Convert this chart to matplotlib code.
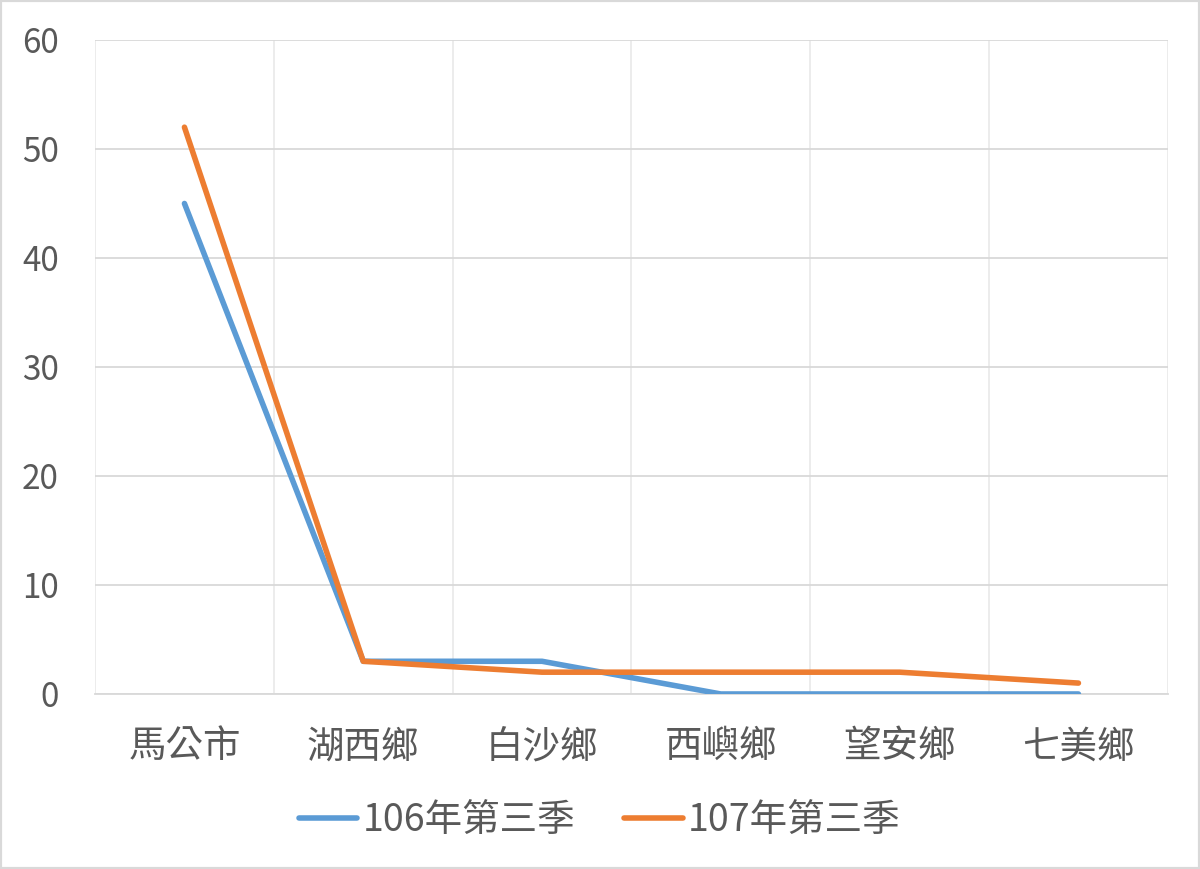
import matplotlib.pyplot as plt
from matplotlib.ticker import MultipleLocator

plt.rcParams['font.family'] = ['Noto Sans CJK TC', 'DejaVu Sans']

towns = ['馬公市', '湖西鄉', '白沙鄉', '西嶼鄉', '望安鄉', '七美鄉']
q3_106 = [45, 3, 3, 0, 0, 0]
q3_107 = [52, 3, 2, 2, 2, 1]
series_names = ['106年第三季', '107年第三季']

fig = plt.figure(figsize=(12, 8.69), dpi=100)
ax = fig.add_axes([0.0792, 0.2014, 0.894, 0.7526])

x = range(len(towns))
ax.plot(x, q3_106, color='#5B9BD5', lw=4, solid_capstyle='round', label=series_names[0], zorder=3)
ax.plot(x, q3_107, color='#ED7D31', lw=4, solid_capstyle='round', label=series_names[1], zorder=4)

ax.set_xlim(-0.5, len(towns) - 0.5)
ax.set_ylim(0, 60)
ax.yaxis.set_major_locator(MultipleLocator(10))
ax.set_xticks(list(x))
ax.set_xticklabels(towns)
ax.set_xticks([i - 0.5 for i in range(len(towns) + 1)] + list(x), minor=True)

ax.grid(axis='y', which='major', color='#D9D9D9', lw=1.3)
ax.grid(axis='x', which='minor', color='#EBEBEB', lw=1.3)
ax.set_axisbelow(True)

for side in ['top', 'right', 'left']:
    ax.spines[side].set_visible(False)
ax.spines['bottom'].set_color('#D9D9D9')
ax.spines['bottom'].set_linewidth(1.3)

ax.tick_params(axis='both', which='both', length=0)
ax.tick_params(axis='y', labelsize=24, labelcolor='#595959', pad=26)
ax.tick_params(axis='x', labelsize=27, labelcolor='#595959', pad=24)

fig.legend(loc='center', bbox_to_anchor=(0.5, 0.056), ncol=2, frameon=False,
           fontsize=27, labelcolor='#595959', handlelength=1.55, handletextpad=0.15,
           columnspacing=1.3)

fig.patches.append(plt.Rectangle((0, 0), 1, 1, transform=fig.transFigure,
                                 fill=False, edgecolor='#D9D9D9', lw=3))

fig.savefig('out.png', dpi=100)
